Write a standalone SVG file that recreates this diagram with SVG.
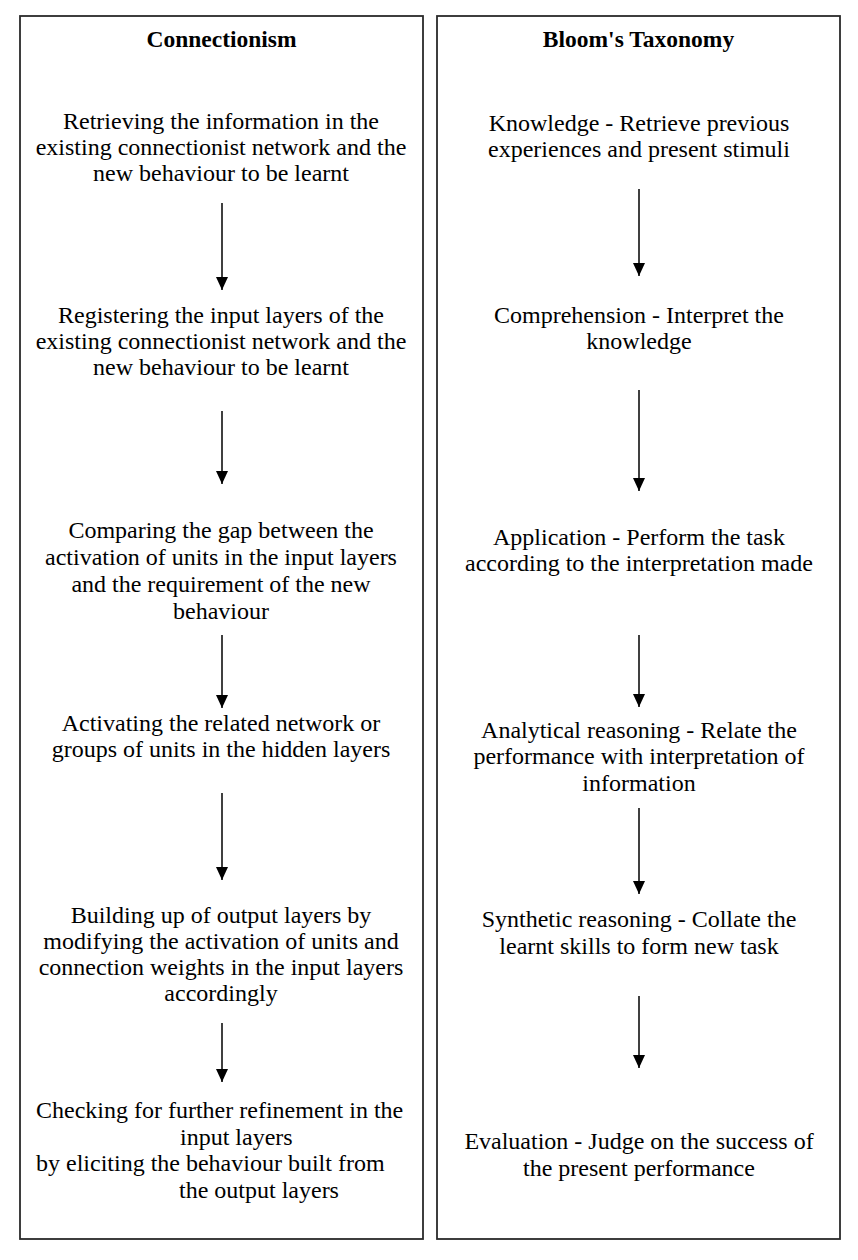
<svg xmlns="http://www.w3.org/2000/svg" width="858" height="1260" viewBox="0 0 858 1260">
<style>
.box{fill:#fff;stroke:#2a2a2a;stroke-width:1.8}
.t{font-family:"Liberation Serif","Times New Roman",serif;font-size:24px;fill:#000;text-anchor:middle}
.h{font-family:"Liberation Serif","Times New Roman",serif;font-size:23.5px;font-weight:bold;fill:#000;text-anchor:middle}
.s{text-anchor:start}
.c{stroke:#000;stroke-width:1.5;fill:none;marker-end:url(#ah)}
</style>
<defs>
<marker id="ah" viewBox="0 0 13 12" refX="13" refY="6" markerWidth="13" markerHeight="12" markerUnits="userSpaceOnUse" orient="auto">
<path d="M0,0 L13,6 L0,12 z" fill="#000"/>
</marker>
</defs>
<rect width="858" height="1260" fill="#fff"/>
<g id="left-panel">
<rect class="box" x="20" y="16" width="403" height="1223"/>
<text class="h" x="221.5" y="47">Connectionism</text>
</g>
<g id="right-panel">
<rect class="box" x="437" y="16" width="403" height="1223"/>
<text class="h" x="638.5" y="47">Bloom's Taxonomy</text>
</g>
<g id="c1">
<text class="t" x="221" y="129">Retrieving the information in the</text>
<text class="t" x="221" y="155">existing connectionist network and the</text>
<text class="t" x="221" y="181">new behaviour to be learnt</text>
</g>
<g id="c2">
<text class="t" x="221" y="323">Registering the input layers of the</text>
<text class="t" x="221" y="349">existing connectionist network and the</text>
<text class="t" x="221" y="375">new behaviour to be learnt</text>
</g>
<g id="c3">
<text class="t" x="221" y="538">Comparing the gap between the</text>
<text class="t" x="221" y="565">activation of units in the input layers</text>
<text class="t" x="221" y="592">and the requirement of the new</text>
<text class="t" x="221" y="619">behaviour</text>
</g>
<g id="c4">
<text class="t" x="221" y="731">Activating the related network or</text>
<text class="t" x="221" y="757">groups of units in the hidden layers</text>
</g>
<g id="c5">
<text class="t" x="221" y="923">Building up of output layers by</text>
<text class="t" x="221" y="949">modifying the activation of units and</text>
<text class="t" x="221" y="975">connection weights in the input layers</text>
<text class="t" x="221" y="1001">accordingly</text>
</g>
<g id="c6">
<text class="t s" x="36" y="1118">Checking for further refinement in the</text>
<text class="t s" x="180" y="1145">input layers</text>
<text class="t s" x="36" y="1171">by eliciting the behaviour built from</text>
<text class="t s" x="179" y="1198">the output layers</text>
</g>
<g id="b1">
<text class="t" x="639" y="131">Knowledge - Retrieve previous</text>
<text class="t" x="639" y="157">experiences and present stimuli</text>
</g>
<g id="b2">
<text class="t" x="639" y="323">Comprehension - Interpret the</text>
<text class="t" x="639" y="349">knowledge</text>
</g>
<g id="b3">
<text class="t" x="639" y="545">Application - Perform the task</text>
<text class="t" x="639" y="571">according to the interpretation made</text>
</g>
<g id="b4">
<text class="t" x="639" y="738">Analytical reasoning - Relate the</text>
<text class="t" x="639" y="764">performance with interpretation of</text>
<text class="t" x="639" y="791">information</text>
</g>
<g id="b5">
<text class="t" x="639" y="927">Synthetic reasoning - Collate the</text>
<text class="t" x="639" y="954">learnt skills to form new task</text>
</g>
<g id="b6">
<text class="t" x="639" y="1149">Evaluation - Judge on the success of</text>
<text class="t" x="639" y="1176">the present performance</text>
</g>
<g id="connectors">
<line class="c" x1="222" y1="203" x2="222" y2="290"/>
<line class="c" x1="222" y1="411" x2="222" y2="484"/>
<line class="c" x1="222" y1="635" x2="222" y2="708"/>
<line class="c" x1="222" y1="793" x2="222" y2="880"/>
<line class="c" x1="222" y1="1023" x2="222" y2="1082"/>
<line class="c" x1="639" y1="189" x2="639" y2="276"/>
<line class="c" x1="639" y1="390" x2="639" y2="491"/>
<line class="c" x1="639" y1="635" x2="639" y2="707"/>
<line class="c" x1="639" y1="808" x2="639" y2="894"/>
<line class="c" x1="639" y1="996" x2="639" y2="1068"/>
</g>
</svg>
